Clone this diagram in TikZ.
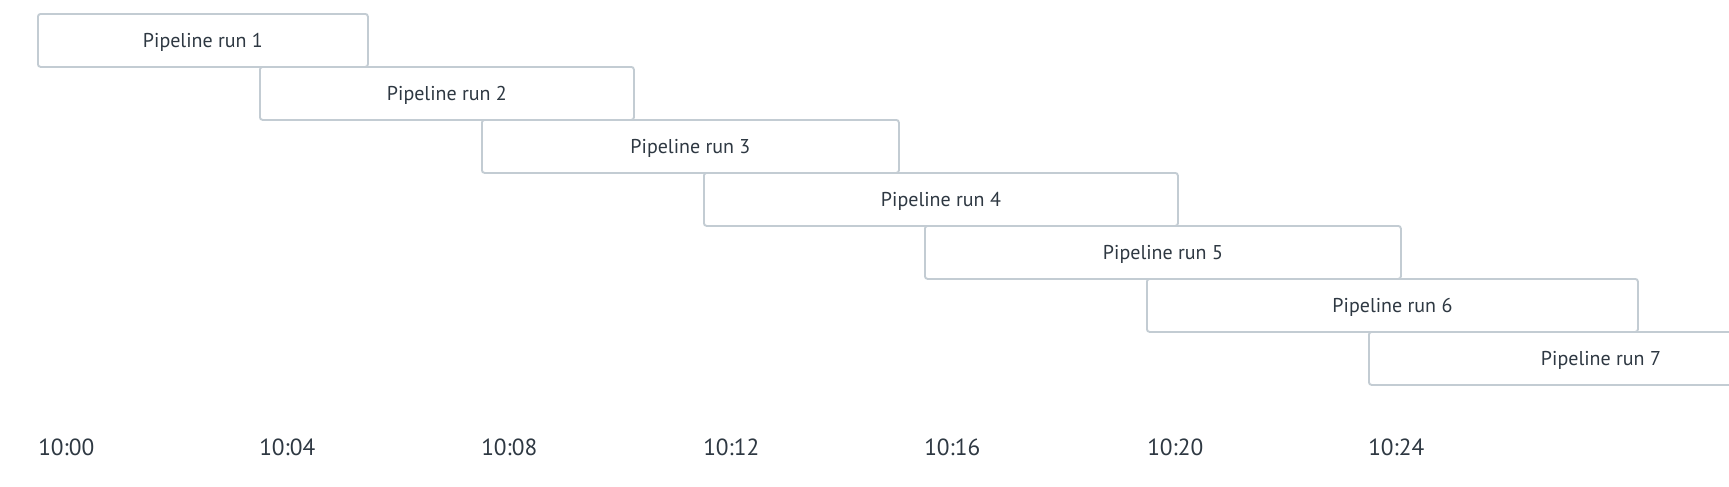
\documentclass[tikz,border=0pt]{standalone}
\usepackage{fontspec}
\setmainfont{PT Sans}
\usepackage{xcolor}
\definecolor{boxline}{HTML}{C3CCD3}
\definecolor{ink}{HTML}{2E3842}

\begin{document}
\begin{tikzpicture}[x=0.75pt,y=-0.75pt,
	runbox/.style={draw=boxline, line width=1.4pt, rounded corners=2pt, fill=white, anchor=north west,
		minimum height=53*0.75pt, inner sep=0pt, text depth=0pt, text=ink, font=\fontsize{15}{18}\selectfont},
	tick/.style={anchor=west, inner sep=0pt, text=ink, font=\fontsize{17.5}{21}\selectfont}]
	\useasboundingbox (0,0) rectangle (1729,486);
	\clip (0,0) rectangle (1729,486);
	\node[runbox, minimum width=330*0.75pt] (run1) at (37,13) {Pipeline run 1};
	\node[runbox, minimum width=374*0.75pt] (run2) at (259,66) {Pipeline run 2};
	\node[runbox, minimum width=417*0.75pt] (run3) at (481,119) {Pipeline run 3};
	\node[runbox, minimum width=474*0.75pt] (run4) at (703,172) {Pipeline run 4};
	\node[runbox, minimum width=476*0.75pt] (run5) at (924,225) {Pipeline run 5};
	\node[runbox, minimum width=491*0.75pt] (run6) at (1146,278) {Pipeline run 6};
	\node[runbox, minimum width=464*0.75pt] (run7) at (1368,331) {Pipeline run 7};
	\node[tick] (t0) at (38,447) {10:00};
	\node[tick] (t4) at (259,447) {10:04};
	\node[tick] (t8) at (481,447) {10:08};
	\node[tick] (t12) at (703,447) {10:12};
	\node[tick] (t16) at (924,447) {10:16};
	\node[tick] (t20) at (1147,447) {10:20};
	\node[tick] (t24) at (1368,447) {10:24};
\end{tikzpicture}
\end{document}
